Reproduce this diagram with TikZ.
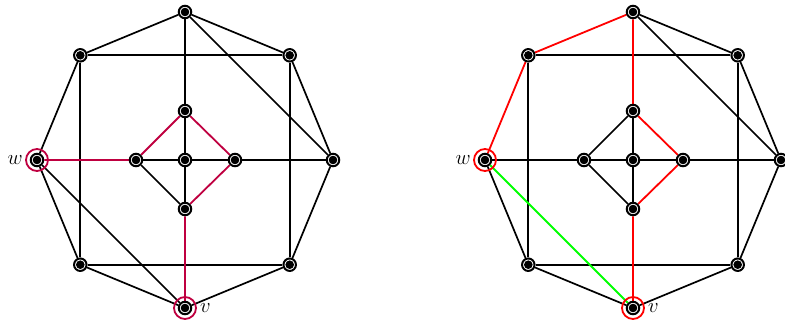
\documentclass[tikz,border=0pt]{standalone}
\usetikzlibrary{backgrounds}
\begin{document}
\begin{tikzpicture}[x=1pt,y=-1pt,
  vtx/.style={circle,draw=black,fill=white,inner sep=0pt,minimum size=12.5pt,line width=2pt,
    path picture={\fill[black] (path picture bounding box.center) circle (4.3pt);}},
  edge/.style={line width=1.7pt,black},
  hl/.style={line width=1.8pt,draw=#1},
  ring/.style={line width=1.8pt,draw=#1},
  lbl/.style={font=\fontsize{20}{24}\selectfont,inner sep=0pt}]
\useasboundingbox (0,0) rectangle (785,327);
% ---------- left graph ----------
\begin{scope}[shift={(185,160)}]
\node[vtx] (aT) at (0,-148) {};
\node[vtx] (aTR) at (104.7,-104.7) {};
\node[vtx] (aR) at (148,0) {};
\node[vtx] (aBR) at (104.7,104.7) {};
\node[vtx] (aB) at (0,148) {};
\node[vtx] (aBL) at (-104.7,104.7) {};
\node[vtx] (aL) at (-148,0) {};
\node[vtx] (aTL) at (-104.7,-104.7) {};
\node[vtx] (aiT) at (0,-49) {};
\node[vtx] (aiR) at (50,0) {};
\node[vtx] (aiB) at (0,49) {};
\node[vtx] (aiL) at (-49,0) {};
\node[vtx] (aC) at (0,0) {};
\end{scope}
\begin{scope}[on background layer]
\draw[edge] (aT)--(aTR) (aTR)--(aR) (aR)--(aBR) (aBR)--(aB) (aB)--(aBL) (aBL)--(aL) (aL)--(aTL) (aTL)--(aT);
\draw[edge] (aTL)--(aTR) (aTR)--(aBR) (aBR)--(aBL) (aBL)--(aTL);
\draw[edge] (aT)--(aiT) (aiT)--(aC) (aC)--(aiB);
\draw[edge] (aiL)--(aC) (aC)--(aiR) (aiR)--(aR);
\draw[edge] (aiB)--(aiL);
\draw[edge] (aT)--(aR) (aL)--(aB);
\draw[hl=purple] (aL)--(aiL) (aiL)--(aiT) (aiT)--(aiR) (aiR)--(aiB) (aiB)--(aB);
\end{scope}
\draw[ring=purple] (aL) circle (11pt);
\draw[ring=purple] (aB) circle (11pt);
\node[lbl,anchor=east] (aw) at ([xshift=-14pt]aL.center) {$w$};
\node[lbl,anchor=west] (av) at ([xshift=15pt]aB.center) {$v$};
% ---------- right graph ----------
\begin{scope}[shift={(633,160)}]
\node[vtx] (bT) at (0,-148) {};
\node[vtx] (bTR) at (104.7,-104.7) {};
\node[vtx] (bR) at (148,0) {};
\node[vtx] (bBR) at (104.7,104.7) {};
\node[vtx] (bB) at (0,148) {};
\node[vtx] (bBL) at (-104.7,104.7) {};
\node[vtx] (bL) at (-148,0) {};
\node[vtx] (bTL) at (-104.7,-104.7) {};
\node[vtx] (biT) at (0,-49) {};
\node[vtx] (biR) at (50,0) {};
\node[vtx] (biB) at (0,49) {};
\node[vtx] (biL) at (-49,0) {};
\node[vtx] (bC) at (0,0) {};
\end{scope}
\begin{scope}[on background layer]
\draw[edge] (bT)--(bTR) (bTR)--(bR) (bR)--(bBR) (bBR)--(bB) (bB)--(bBL) (bBL)--(bL);
\draw[edge] (bTL)--(bTR) (bTR)--(bBR) (bBR)--(bBL) (bBL)--(bTL);
\draw[edge] (biT)--(bC) (bC)--(biB);
\draw[edge] (bL)--(biL) (biL)--(bC) (bC)--(biR) (biR)--(bR);
\draw[edge] (biL)--(biT) (biB)--(biL);
\draw[edge] (bT)--(bR);
\draw[hl=red] (bL)--(bTL) (bTL)--(bT) (bT)--(biT) (biT)--(biR) (biR)--(biB) (biB)--(bB);
\draw[hl=green] (bL)--(bB);
\end{scope}
\draw[ring=red] (bL) circle (11pt);
\draw[ring=red] (bB) circle (11pt);
\node[lbl,anchor=east] (bw) at ([xshift=-14pt]bL.center) {$w$};
\node[lbl,anchor=west] (bv) at ([xshift=15pt]bB.center) {$v$};
\end{tikzpicture}
\end{document}
